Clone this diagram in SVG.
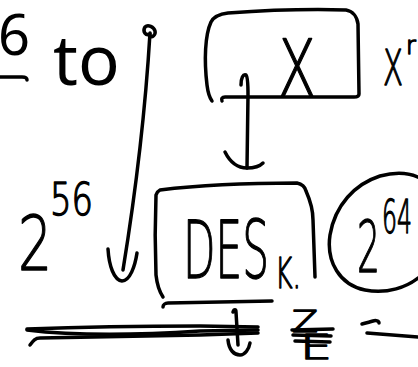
<svg xmlns="http://www.w3.org/2000/svg" width="418" height="367" viewBox="0 0 418 367">
<style>
.s{fill:none;stroke:#000;stroke-width:3.5;stroke-linecap:round;stroke-linejoin:round}
.t{font-family:"Noto Sans","Open Sans",sans-serif;fill:#000}
.h{font-family:"DejaVu Sans","Liberation Sans",sans-serif;font-weight:200;fill:#000;stroke:#000;stroke-width:1.4;stroke-linejoin:round}
</style>
<rect width="418" height="367" fill="#fff"/>
<g id="heading">
<text class="t" x="-2" y="55" font-size="56">6</text>
<path class="s" d="M0,77 L22,77 C25,77 27,78 27,80"/>
<text class="t" x="53" y="85" font-size="69">to</text>
</g>
<g id="node-x">
<path class="s" d="M212,101 C209,97 208,93 207,85 C204,60 205,35 211,22 C214,16 220,14 228,13 C270,10 310,9 346,10 C352,11 357,16 358,24 L359,94 C359,96 357,97 354,97 L225,97 C222,97 221,99 222,101"/>
<text class="h" x="278" y="96" font-size="78" textLength="38" lengthAdjust="spacingAndGlyphs">X</text>
</g>
<g id="label-xr">
<text class="h" x="383" y="85" font-size="50" textLength="20" lengthAdjust="spacingAndGlyphs">X</text>
<text class="h" x="406" y="54" font-size="24">r</text>
</g>
<g id="label-2-56">
<text class="h" x="18" y="270" font-size="75" textLength="34" lengthAdjust="spacingAndGlyphs">2</text>
<text class="h" x="50" y="215" font-size="44" textLength="43" lengthAdjust="spacingAndGlyphs">56</text>
</g>
<g id="node-des">
<path class="s" d="M163,297 C159,291 157,284 156,275 C155,250 155,220 156,195 C157,192 158,191 160,190 C200,185 250,183 297,183 C302,184 305,187 306,191 C310,200 313,210 313,220 L315,277"/>
<path class="s" d="M163,307 C163,305 165,303 168,303 L272,301"/>
<text class="h" x="183" y="278" font-size="80" textLength="86" lengthAdjust="spacingAndGlyphs">DES</text>
<text class="h" x="275" y="288" font-size="42" textLength="26" lengthAdjust="spacingAndGlyphs">K.</text>
</g>
<g id="node-2-64">
<path class="s" d="M425,181 C412,172 395,172 380,176 C355,184 335,205 330,235 C326,262 340,285 365,290 C385,294 408,289 425,272"/>
<text class="h" x="357" y="272" font-size="71" textLength="23" lengthAdjust="spacingAndGlyphs">2</text>
<text class="h" x="382" y="233" font-size="46" textLength="30" lengthAdjust="spacingAndGlyphs">64</text>
</g>
<g id="connectors">
<path class="s" d="M150,33 C146,100 136,190 123,270"/>
<path class="s" d="M150,34 C146,36 142,32 145,27 C148,24 154,27 155,31 C156,35 152,38 150,36"/>
<path class="s" d="M108,249 C109,266 114,280 122,281 C130,281 135,266 137,253"/>
<path class="s" d="M241,85 C241,78 243,74 246,75 C248,77 248,85 248,95 L247,168"/>
<path class="s" d="M225,152 C230,162 238,168 247,168 C254,168 260,166 263,163"/>
<path class="s" d="M233,312 C234,309 236,309 236,312 L238,345"/>
<path class="s" d="M228,340 C229,350 234,355 240,355 C245,355 249,349 250,343"/>
</g>
<g id="bottom-lines">
<path class="s" d="M27,329 C80,327 140,326 200,326 L258,327"/>
<path class="s" d="M27,330 C60,334 110,337 200,331 L258,330"/>
<path class="s" d="M30,345 C33,341 35,338 40,338 L200,335 L258,333"/>
</g>
<g id="scribble">
<text class="h" x="292" y="332" font-size="30" textLength="26" lengthAdjust="spacingAndGlyphs">Z</text>
<text class="h" x="300" y="359" font-size="34" textLength="32" lengthAdjust="spacingAndGlyphs">E</text>
<path class="s" d="M292,330 L333,329 M293,335 L331,336 M295,341 L330,342"/>
<path class="s" d="M362,324 C366,323 370,322 373,321 C376,320 379,321 379,323"/>
<path class="s" stroke-width="4.5" d="M367,333 L418,337"/>
</g>
</svg>
